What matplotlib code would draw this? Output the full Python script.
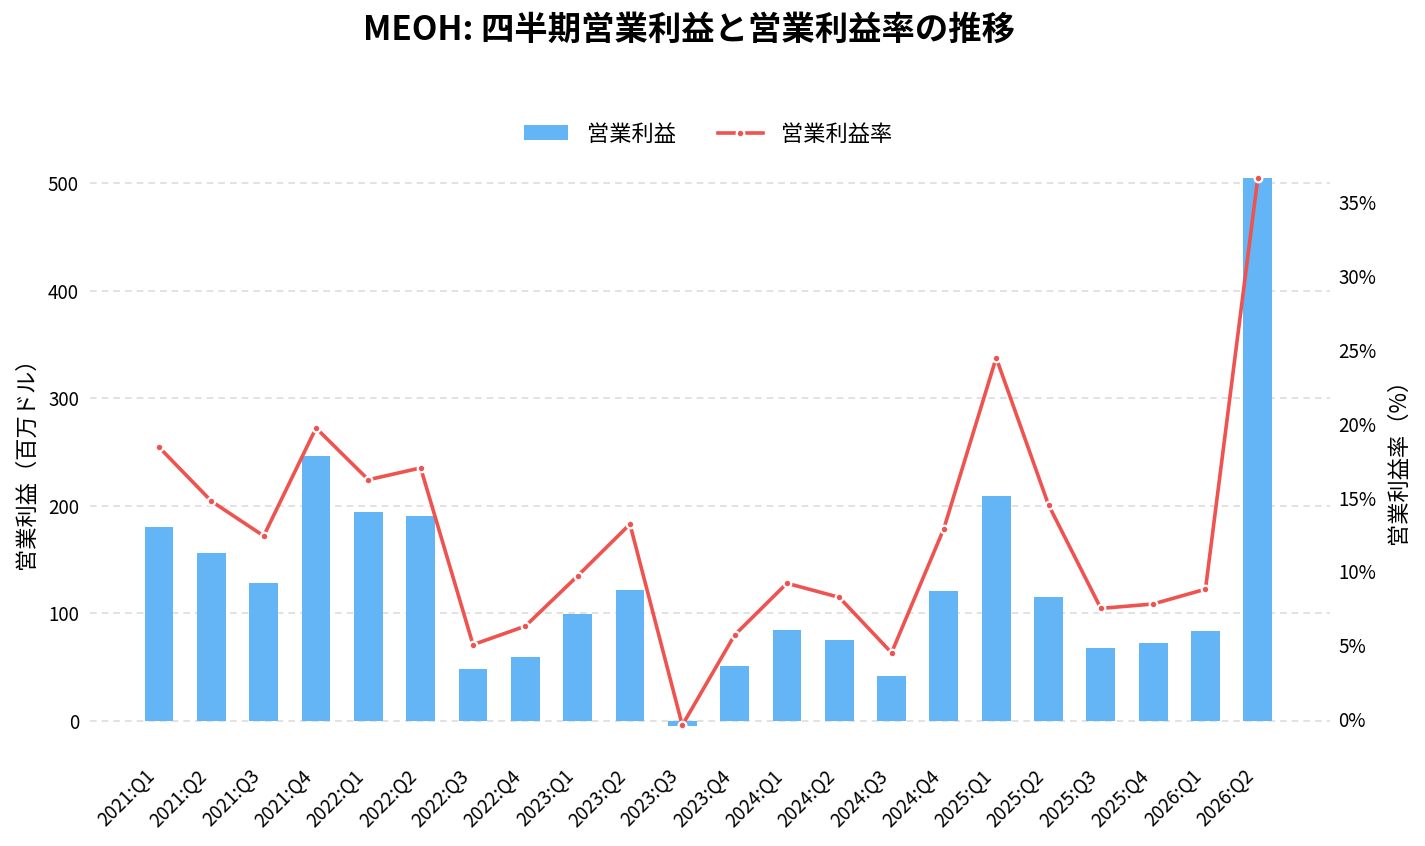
import matplotlib
matplotlib.use("Agg")
import matplotlib.pyplot as plt
from matplotlib.ticker import FuncFormatter

plt.rcParams['font.family'] = ['Noto Sans CJK JP', 'DejaVu Sans']

quarters = ["2021:Q1", "2021:Q2", "2021:Q3", "2021:Q4",
            "2022:Q1", "2022:Q2", "2022:Q3", "2022:Q4",
            "2023:Q1", "2023:Q2", "2023:Q3", "2023:Q4",
            "2024:Q1", "2024:Q2", "2024:Q3", "2024:Q4",
            "2025:Q1", "2025:Q2", "2025:Q3", "2025:Q4",
            "2026:Q1", "2026:Q2"]
operating_income = [180, 156, 128, 246, 194, 190, 48, 59, 99, 122, -5, 51,
                    84, 75, 42, 121, 209, 115, 68, 72, 83, 505]
operating_margin = [18.4, 14.75, 12.4, 19.7, 16.2, 17.0, 5.05, 6.3, 9.7, 13.2, -0.4, 5.7,
                    9.2, 8.25, 4.5, 12.9, 24.45, 14.5, 7.5, 7.8, 8.8, 36.6]
left_ticks = [0, 100, 200, 300, 400, 500]
right_ticks = [0, 5, 10, 15, 20, 25, 30, 35]

bar_color = '#64B5F6'
line_color = '#EF5350'

fig = plt.figure(figsize=(14.25, 8.46), dpi=100)
W, H = 1425, 846
ax_l, ax_r, ax_t, ax_b = 90, 1330, 151, 760
ax1 = fig.add_axes([ax_l / W, 1 - ax_b / H, (ax_r - ax_l) / W, (ax_b - ax_t) / H])
ax2 = ax1.twinx()

x = list(range(len(quarters)))
bars = ax1.bar(x, operating_income, width=0.55, color=bar_color, label='営業利益', zorder=2)
line, = ax2.plot(x, operating_margin, color=line_color, lw=2.6, marker='o',
                 markersize=5.5, markerfacecolor=line_color, markeredgecolor='white',
                 markeredgewidth=1.6, label='営業利益率', zorder=3)

ax1.set_xlim(-1.32, 22.38)
ax1.set_ylim(-36.5, 529.8)
ax2.set_ylim(-2.75, 38.43)

ax1.set_yticks(left_ticks)
ax2.set_yticks(right_ticks)
ax2.yaxis.set_major_formatter(FuncFormatter(lambda v, p: f"{int(v)}%"))

ax1.set_xticks(x)
ax1.set_xticklabels(quarters, rotation=45, ha='right', rotation_mode='default')

for a in (ax1, ax2):
    for s in a.spines.values():
        s.set_visible(False)
    a.tick_params(axis='both', length=0, labelsize=13.5)
ax1.tick_params(axis='y', pad=8)
ax2.tick_params(axis='y', pad=6)
ax1.tick_params(axis='x', pad=4)

ax1.set_axisbelow(True)
ax1.grid(axis='y', color='#dddddd', linestyle='--', linewidth=1.2, dashes=(4, 3))
ax1.grid(axis='x', visible=False)
ax2.grid(False)

ax1.set_ylabel('営業利益（百万ドル）', fontsize=16)
ax2.set_ylabel('営業利益率（%）', fontsize=16)
ax1.yaxis.set_label_coords((38 - ax_l) / (ax_r - ax_l), (ax_b - 458) / (ax_b - ax_t))
ax2.yaxis.set_label_coords((1387 - ax_l) / (ax_r - ax_l), (ax_b - 456) / (ax_b - ax_t))

leg = ax1.legend([bars, line], ['営業利益', '営業利益率'], loc='center',
                 bbox_to_anchor=(0.4985, (ax_b - 134) / (ax_b - ax_t)), ncol=2,
                 frameon=False, fontsize=16, handlelength=2.0, handletextpad=0.85,
                 columnspacing=1.9)

fig.suptitle('MEOH: 四半期営業利益と営業利益率の推移', fontsize=24, fontweight='bold',
             x=689 / W, y=1 - 30 / H, va='center')

fig.savefig('out.png', dpi=100)
